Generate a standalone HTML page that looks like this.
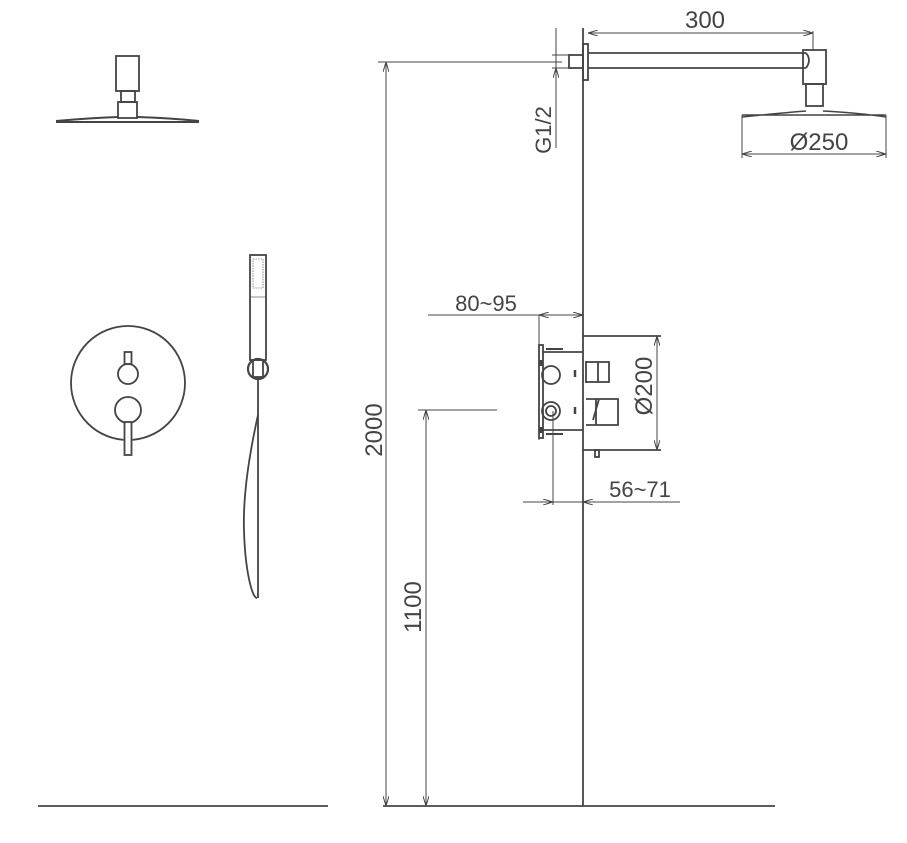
<!DOCTYPE html>
<html><head><meta charset="utf-8"><style>body{margin:0;background:#fff}svg{display:block}</style></head>
<body>
<svg width="907" height="843" viewBox="0 0 907 843" xmlns="http://www.w3.org/2000/svg" fill="none" stroke="#444" stroke-width="1.8" font-family="Liberation Sans, sans-serif">
<defs><marker id="a" viewBox="0 0 10 6" refX="10" refY="3" markerWidth="10" markerHeight="6" orient="auto-start-reverse" markerUnits="userSpaceOnUse"><path d="M0,0 L10,3 L0,6" stroke="#444" stroke-width="1" fill="none"/></marker></defs>
<!-- left shower head -->
<rect x="116" y="56" width="23" height="35"/>
<rect x="121" y="91" width="14" height="11"/>
<rect x="118" y="102" width="19" height="16"/>
<path d="M56,122 H199 M56,121 Q90,118 118,117 M137,117 Q170,118 199,121" stroke-width="2"/>
<!-- mixer plate -->
<circle cx="128" cy="383" r="57"/>
<rect x="124.5" y="352" width="7" height="12"/>
<circle cx="128" cy="374" r="10"/>
<circle cx="128" cy="410" r="13"/>
<rect x="124.5" y="422" width="7" height="33" fill="#fff"/>
<!-- hand shower -->
<rect x="250" y="255" width="16" height="105"/>
<rect x="253" y="259" width="10" height="29" stroke-width="0.6" stroke-dasharray="1.5 1"/>
<line x1="250" y1="297" x2="266" y2="297" stroke-width="0.6"/>
<circle cx="258" cy="369" r="10" stroke-width="2.2"/>
<rect x="253" y="360" width="10" height="17"/>
<path d="M258,378 V598"/>
<path d="M258,415 C248,460 243,500 244,530 C245,570 252,598 257,598"/>
<!-- floors -->
<line x1="38" y1="806" x2="328" y2="806"/>
<line x1="383" y1="806" x2="775" y2="806"/>
<!-- wall -->
<line x1="583" y1="28" x2="583" y2="806"/>
<!-- 2000 -->
<line x1="378" y1="62" x2="562" y2="62" stroke-width="1"/>
<line x1="386" y1="62" x2="386" y2="806" stroke-width="1" marker-start="url(#a)" marker-end="url(#a)"/>
<text x="382" y="430" transform="rotate(-90 382 430)" text-anchor="middle" font-size="24" fill="#444" stroke="none">2000</text>
<!-- 1100 -->
<line x1="418" y1="410" x2="497" y2="410" stroke-width="1"/>
<line x1="426" y1="410" x2="426" y2="806" stroke-width="1" marker-start="url(#a)" marker-end="url(#a)"/>
<text x="421" y="607" transform="rotate(-90 421 607)" text-anchor="middle" font-size="24" fill="#444" stroke="none">1100</text>
<!-- G1/2 -->
<line x1="556" y1="28" x2="556" y2="148" stroke-width="1"/>
<path d="M556,40 L556,55 M556,83 L556,68" stroke-width="1" marker-end="url(#a)"/>
<line x1="552" y1="55" x2="583" y2="55" stroke-width="1"/>
<line x1="552" y1="68" x2="583" y2="68" stroke-width="1"/>
<text x="551" y="130" transform="rotate(-90 551 130)" text-anchor="middle" font-size="22" fill="#444" stroke="none">G1/2</text>
<!-- arm -->
<rect x="569" y="55" width="14" height="13"/>
<rect x="583" y="44" width="5" height="36"/>
<line x1="588" y1="53" x2="806" y2="53"/>
<line x1="588" y1="68" x2="806" y2="68"/>
<path d="M806,53 Q812,60 806,68"/>
<rect x="803" y="50" width="23" height="34"/>
<rect x="806" y="84" width="17" height="22"/>
<path d="M742,115 H886 M742,117 Q780,113 806,111 M823,111 Q860,113 886,117" stroke-width="1.5"/>
<line x1="742" y1="115" x2="742" y2="158" stroke-width="1"/>
<line x1="886" y1="115" x2="886" y2="158" stroke-width="1"/>
<line x1="742" y1="154" x2="886" y2="154" stroke-width="1" marker-start="url(#a)" marker-end="url(#a)"/>
<text x="819" y="150" text-anchor="middle" font-size="24" fill="#444" stroke="none">Ø250</text>
<!-- 300 -->
<line x1="813" y1="31" x2="813" y2="50" stroke-width="1"/>
<line x1="588" y1="33" x2="813" y2="33" stroke-width="1" marker-start="url(#a)" marker-end="url(#a)"/>
<text x="705" y="28" text-anchor="middle" font-size="24" fill="#444" stroke="none">300</text>
<!-- 80~95 -->
<line x1="428" y1="315" x2="583" y2="315" stroke-width="1"/>
<line x1="539" y1="315" x2="583" y2="315" stroke-width="1" marker-start="url(#a)" marker-end="url(#a)"/>
<line x1="539" y1="315" x2="539" y2="440" stroke-width="1"/>
<text x="486" y="311" text-anchor="middle" font-size="22" fill="#444" stroke="none">80~95</text>
<!-- valve body -->
<rect x="539" y="345" width="4" height="93"/>
<line x1="543" y1="352" x2="583" y2="352"/>
<line x1="543" y1="430" x2="583" y2="430"/>
<path d="M546,349 H563 M546,434 H563" stroke-width="2"/>
<line x1="541" y1="360" x2="541" y2="366" stroke-width="3"/>
<line x1="541" y1="427" x2="541" y2="433" stroke-width="3"/>
<circle cx="551" cy="375" r="9"/>
<circle cx="551" cy="411" r="9"/>
<circle cx="551" cy="411" r="5"/>
<line x1="575" y1="370" x2="575" y2="377" stroke-width="2.5"/>
<line x1="575" y1="407" x2="575" y2="414" stroke-width="2.5"/>
<!-- cover -->
<line x1="583" y1="336" x2="661" y2="336"/>
<line x1="583" y1="450" x2="661" y2="450"/>
<line x1="657" y1="336" x2="657" y2="450" stroke-width="1" marker-start="url(#a)" marker-end="url(#a)"/>
<text x="652" y="386" transform="rotate(-90 652 386)" text-anchor="middle" font-size="24" fill="#444" stroke="none">Ø200</text>
<rect x="586" y="362" width="23" height="20"/>
<line x1="598" y1="362" x2="598" y2="382"/>
<path d="M586,399 H599 L593,420 M599,399 H618 V425 H586"/>
<line x1="596" y1="399" x2="596" y2="425"/>
<rect x="595" y="450" width="4" height="7"/>
<!-- 56~71 -->
<line x1="553" y1="411" x2="553" y2="505" stroke-width="1"/>
<line x1="523" y1="502" x2="553" y2="502" stroke-width="1" marker-end="url(#a)"/>
<line x1="553" y1="502" x2="583" y2="502" stroke-width="1"/>
<line x1="680" y1="502" x2="583" y2="502" stroke-width="1" marker-end="url(#a)"/>
<text x="640" y="497" text-anchor="middle" font-size="22" fill="#444" stroke="none">56~71</text>
</svg>
</body></html>
